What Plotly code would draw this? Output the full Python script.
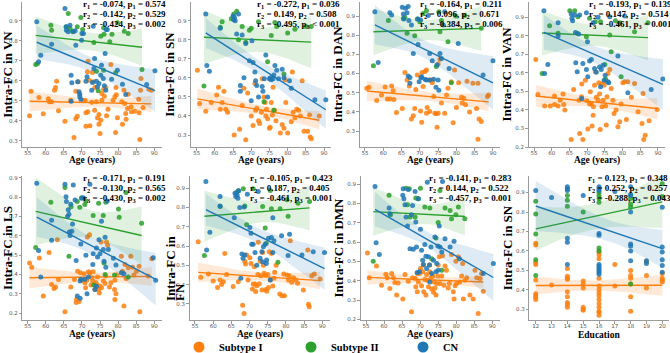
import numpy as np
import plotly.graph_objects as go

# ---------------- DATA ----------------
# (age, intra-FC) pairs per group; Subtype I / Subtype II / CN
VN_I = [(55.5,0.425),(55.9,0.548),(58.1,0.517),(59.3,0.435),(60.7,0.51),(61.0,0.495),(61.6,0.495),(62.4,0.553),(62.7,0.567),(63.0,0.598),(63.5,0.45),(65.3,0.398),(66.9,0.503),(67.8,0.317),(68.3,0.41),(68.7,0.423),(68.3,0.548),(69.0,0.595),(70.4,0.50),(70.9,0.503),(71.1,0.44),(71.6,0.445),(71.1,0.373),(71.7,0.698),(71.5,0.645),(72.0,0.603),(72.2,0.375),(72.7,0.493),(72.9,0.642),(73.2,0.595),(73.5,0.453),(73.6,0.567),(74.0,0.495),(74.3,0.415),(74.7,0.432),(74.7,0.383),(75.0,0.337),(75.2,0.403),(75.5,0.537),(75.5,0.503),(76.0,0.558),(76.2,0.523),(76.6,0.567),(76.8,0.425),(77.2,0.458),(78.0,0.682),(78.6,0.503),(79.1,0.52),(79.3,0.342),(79.4,0.567),(79.5,0.53),(79.8,0.415),(81.0,0.495),(81.2,0.383),(81.6,0.553),(81.8,0.487),(82.1,0.437),(82.2,0.408),(82.6,0.462),(82.8,0.533),(83.6,0.47),(83.7,0.445),(84.6,0.448),(85.7,0.508),(85.8,0.44),(86.2,0.553),(86.0,0.307),(86.3,0.612),(86.9,0.467),(88.5,0.558),(89.2,0.553)]
VN_II = [(57.2,0.682),(57.7,0.687),(61.4,0.878),(61.6,0.853),(65.7,0.87),(66.2,0.937),(66.7,0.862),(67.4,0.848),(68.7,0.87),(69.7,0.917),(70.2,0.857),(73.3,0.792),(74.0,0.648),(74.5,0.55),(75.2,0.823),(76.0,0.865),(76.0,0.653),(76.1,0.833),(77.7,0.795),(78.3,0.833),(79.3,0.64),(79.8,0.89),(81.7,0.848),(82.8,0.837),(86.6,0.657)]
VN_CN = [(57.5,0.895),(58.0,0.695),(58.6,0.728),(61.6,0.783),(65.3,0.962),(65.6,0.87),(65.7,0.853),(66.2,0.845),(66.7,0.878),(67.0,0.628),(67.2,0.59),(67.0,0.498),(67.6,0.845),(68.1,0.85),(68.3,0.778),(68.8,0.595),(69.2,0.545),(69.4,0.533),(69.4,0.52),(69.7,0.508),(69.9,0.803),(70.0,0.837),(70.4,0.837),(71.1,0.598),(71.4,0.62),(72.7,0.553),(72.9,0.592),(73.1,0.873),(73.3,0.662),(73.5,0.712),(74.0,0.598),(74.3,0.57),(74.7,0.587),(75.2,0.628),(75.4,0.678),(75.9,0.612),(76.2,0.575),(76.4,0.737),(76.6,0.553),(76.7,0.857),(77.0,0.857),(78.2,0.608),(79.8,0.653),(81.2,0.583),(82.1,0.532),(87.9,0.582),(90.2,0.65)]

SN_I = [(55.2,0.64),(55.8,0.465),(57.5,0.425),(59.0,0.47),(60.5,0.51),(61.0,0.55),(61.5,0.435),(62.0,0.47),(62.5,0.53),(63.0,0.435),(63.5,0.42),(65.3,0.30),(66.8,0.33),(67.5,0.455),(68.0,0.545),(68.5,0.275),(69.0,0.52),(70.0,0.40),(70.5,0.35),(71.0,0.57),(71.2,0.43),(71.5,0.44),(72.0,0.375),(72.3,0.36),(72.8,0.42),(73.0,0.595),(73.5,0.50),(73.8,0.47),(74.0,0.40),(74.2,0.435),(74.5,0.385),(75.0,0.335),(75.2,0.34),(75.5,0.47),(75.8,0.405),(76.0,0.55),(76.4,0.43),(76.8,0.375),(78.0,0.31),(78.5,0.355),(79.0,0.335),(79.3,0.59),(79.5,0.47),(80.0,0.31),(81.0,0.37),(81.3,0.63),(81.5,0.42),(82.0,0.39),(82.5,0.435),(83.0,0.43),(83.5,0.40),(84.0,0.585),(84.5,0.32),(85.5,0.32),(86.0,0.405),(86.2,0.29),(86.5,0.28),(88.7,0.40)]
SN_II = [(57.0,0.557),(61.5,0.865),(62.0,0.895),(64.5,0.91),(65.2,0.935),(66.0,0.95),(66.5,0.80),(67.5,0.87),(68.5,0.787),(69.5,0.85),(70.0,0.86),(72.0,0.895),(73.5,0.475),(74.5,0.685),(75.5,0.822),(76.2,0.43),(76.5,0.89),(77.0,0.87),(79.0,0.62),(80.0,0.835),(82.0,0.855),(85.0,0.87),(86.5,0.87)]
SN_CN = [(57.5,0.935),(57.8,0.665),(58.5,0.635),(61.5,0.86),(65.0,0.925),(65.2,0.905),(65.4,0.915),(65.6,0.90),(66.0,0.83),(66.5,0.935),(67.0,0.56),(67.0,0.53),(67.5,0.825),(68.0,0.60),(68.5,0.78),(69.5,0.69),(70.0,0.48),(70.2,0.795),(70.5,0.68),(71.0,0.63),(71.2,0.585),(71.5,0.56),(72.0,0.50),(73.0,0.555),(73.2,0.53),(73.6,0.595),(74.0,0.72),(74.5,0.50),(75.0,0.595),(75.3,0.60),(75.5,0.59),(76.0,0.595),(76.2,0.615),(76.5,0.665),(77.0,0.64),(77.5,0.595),(78.5,0.645),(79.0,0.60),(80.5,0.585),(81.0,0.545),(87.5,0.485),(90.5,0.485)]

DAN_I = [(55.5,0.523),(56.1,0.528),(58.2,0.46),(59.5,0.488),(60.5,0.53),(61.1,0.467),(61.8,0.467),(62.3,0.535),(62.7,0.51),(62.9,0.465),(63.6,0.397),(65.2,0.418),(65.9,0.606),(66.5,0.566),(67.1,0.535),(67.7,0.363),(68.2,0.38),(68.6,0.418),(68.9,0.517),(69.3,0.592),(70.2,0.405),(70.5,0.346),(70.6,0.606),(70.9,0.532),(71.4,0.61),(71.8,0.618),(71.8,0.393),(72.0,0.423),(72.5,0.566),(72.7,0.402),(73.2,0.566),(73.4,0.552),(73.8,0.48),(74.1,0.393),(74.5,0.39),(74.7,0.32),(75.0,0.393),(75.0,0.65),(75.5,0.674),(75.9,0.446),(76.8,0.393),(77.3,0.488),(77.7,0.523),(78.6,0.557),(79.1,0.343),(79.5,0.618),(80.0,0.423),(80.6,0.552),(81.4,0.476),(81.6,0.446),(82.0,0.471),(82.5,0.437),(82.9,0.56),(83.6,0.40),(84.5,0.549),(85.5,0.418),(85.9,0.549),(86.2,0.363),(85.9,0.257),(86.8,0.35),(88.5,0.48),(88.8,0.488)]
DAN_II = [(57.3,0.64),(61.4,0.876),(65.5,0.888),(65.9,0.893),(66.5,0.81),(68.6,0.797),(69.3,0.884),(70.0,0.87),(70.9,0.913),(71.8,0.927),(74.5,0.637),(75.2,0.922),(75.5,0.818),(75.9,0.876),(77.7,0.766),(78.6,0.552),(79.8,0.90),(82.3,0.902),(86.8,0.836)]
DAN_CN = [(57.7,0.922),(58.6,0.658),(61.8,0.917),(62.3,0.905),(65.2,0.945),(65.5,0.91),(65.6,0.884),(66.1,0.94),(66.5,0.917),(66.8,0.949),(67.0,0.876),(66.8,0.587),(67.3,0.58),(67.3,0.549),(67.7,0.853),(68.2,0.705),(69.5,0.884),(69.5,0.751),(69.8,0.557),(70.2,0.879),(70.3,0.578),(70.5,0.583),(71.4,0.57),(71.8,0.566),(72.3,0.902),(72.7,0.705),(72.7,0.566),(73.4,0.667),(73.8,0.57),(74.4,0.528),(74.7,0.644),(75.0,0.566),(75.2,0.513),(75.5,0.705),(75.9,0.679),(76.4,0.853),(76.8,0.922),(78.0,0.626),(80.5,0.756),(87.3,0.592),(90.0,0.667)]

VAN_I = [(55.5,0.673),(56.1,0.484),(58.0,0.421),(59.6,0.421),(60.8,0.475),(60.8,0.43),(61.8,0.421),(62.4,0.453),(63.2,0.486),(63.4,0.43),(63.7,0.40),(65.5,0.241),(66.2,0.511),(67.7,0.453),(67.9,0.273),(68.4,0.471),(68.5,0.54),(68.8,0.241),(69.5,0.561),(69.9,0.45),(70.2,0.297),(70.7,0.432),(70.9,0.498),(71.2,0.432),(71.4,0.313),(71.7,0.372),(71.8,0.417),(72.1,0.534),(72.3,0.606),(72.6,0.468),(73.1,0.453),(73.3,0.547),(73.5,0.486),(73.7,0.295),(74.0,0.54),(74.2,0.417),(74.5,0.453),(74.8,0.534),(75.0,0.552),(75.2,0.421),(75.4,0.319),(75.6,0.471),(75.9,0.597),(76.4,0.619),(76.8,0.516),(77.3,0.453),(77.6,0.381),(78.2,0.40),(78.7,0.309),(79.2,0.336),(79.6,0.432),(80.1,0.547),(80.6,0.552),(81.1,0.349),(81.5,0.552),(82.5,0.468),(83.4,0.543),(84.4,0.39),(85.5,0.327),(85.8,0.489),(86.0,0.241),(86.4,0.264),(87.5,0.342),(89.8,0.403)]
VAN_II = [(57.3,0.597),(59.4,0.855),(61.8,0.814),(65.1,0.936),(66.5,0.936),(67.2,0.814),(67.4,0.904),(69.8,0.796),(70.7,0.895),(72.3,0.877),(73.8,0.877),(75.0,0.646),(75.2,0.567),(76.4,0.805),(76.8,0.714),(78.0,0.882),(79.2,0.871),(79.6,0.579),(83.4,0.823),(87.2,0.871)]
VAN_CN = [(57.8,0.936),(58.0,0.597),(58.9,0.646),(61.8,0.871),(61.8,0.80),(65.5,0.918),(65.7,0.895),(65.9,0.882),(66.5,0.913),(66.7,0.818),(66.8,0.655),(67.2,0.606),(67.6,0.81),(67.9,0.913),(68.5,0.462),(68.8,0.651),(69.8,0.619),(69.8,0.925),(70.1,0.769),(70.2,0.579),(70.7,0.665),(71.2,0.673),(71.7,0.871),(72.1,0.624),(72.6,0.603),(73.1,0.90),(73.5,0.632),(73.8,0.525),(74.0,0.619),(74.5,0.642),(74.8,0.561),(75.1,0.588),(75.9,0.552),(76.1,0.547),(76.4,0.904),(78.7,0.691),(80.6,0.907),(81.5,0.493),(88.1,0.511),(91.4,0.567)]

LS_I = [(55.5,0.46),(56.1,0.437),(58.2,0.485),(59.3,0.289),(60.9,0.514),(61.6,0.349),(62.3,0.328),(62.7,0.335),(63.5,0.374),(63.2,0.579),(65.3,0.208),(66.9,0.335),(67.9,0.374),(68.4,0.255),(68.5,0.271),(68.8,0.417),(69.2,0.26),(69.6,0.409),(70.1,0.37),(70.6,0.404),(70.8,0.356),(71.0,0.332),(71.3,0.37),(71.5,0.594),(71.8,0.414),(72.1,0.605),(72.2,0.409),(72.5,0.346),(72.7,0.384),(73.0,0.367),(73.1,0.414),(73.3,0.349),(73.6,0.323),(73.9,0.358),(74.1,0.346),(74.3,0.387),(74.6,0.323),(74.8,0.305),(75.0,0.341),(75.3,0.568),(75.4,0.332),(75.9,0.367),(76.4,0.353),(76.6,0.392),(76.8,0.568),(77.1,0.551),(77.6,0.335),(78.0,0.358),(79.0,0.323),(79.1,0.271),(79.4,0.30),(79.1,0.37),(79.6,0.398),(80.9,0.494),(81.2,0.417),(81.6,0.237),(81.9,0.452),(82.2,0.38),(82.8,0.435),(83.5,0.494),(84.0,0.437),(84.4,0.398),(85.1,0.417),(85.8,0.443),(86.0,0.208),(88.3,0.392),(89.3,0.482)]
LS_II = [(57.2,0.54),(61.4,0.773),(65.3,0.85),(66.4,0.494),(67.0,0.75),(68.7,0.777),(69.4,0.748),(69.9,0.797),(70.8,0.762),(71.1,0.78),(73.1,0.705),(73.3,0.346),(74.6,0.768),(75.9,0.705),(76.1,0.46),(76.4,0.40),(76.6,0.773),(79.0,0.398),(80.1,0.738),(80.3,0.696),(82.2,0.824),(82.8,0.387),(86.5,0.665)]
LS_CN = [(57.5,0.871),(58.0,0.524),(58.6,0.387),(61.6,0.68),(61.6,0.577),(65.3,0.866),(65.6,0.802),(65.7,0.777),(66.0,0.70),(66.2,0.735),(66.4,0.712),(66.5,0.62),(66.7,0.602),(66.9,0.763),(67.2,0.624),(67.4,0.661),(67.6,0.862),(68.1,0.785),(68.4,0.472),(68.7,0.289),(69.5,0.367),(69.5,0.277),(69.7,0.558),(69.7,0.375),(69.9,0.794),(70.4,0.797),(70.8,0.375),(71.1,0.50),(71.4,0.30),(71.8,0.387),(72.2,0.866),(73.0,0.452),(73.1,0.507),(73.6,0.323),(74.0,0.34),(74.0,0.537),(74.3,0.49),(74.7,0.58),(75.0,0.507),(75.4,0.675),(75.9,0.529),(76.1,0.469),(76.4,0.592),(76.6,0.438),(77.0,0.78),(77.3,0.529),(78.7,0.484),(79.4,0.449),(80.9,0.409),(81.6,0.404),(89.7,0.487),(90.4,0.371)]

FN_I = [(55.9,0.623),(56.6,0.438),(58.7,0.455),(60.0,0.419),(61.2,0.385),(61.9,0.424),(62.3,0.401),(62.8,0.415),(63.2,0.562),(63.7,0.453),(65.5,0.39),(66.9,0.415),(68.1,0.294),(68.5,0.251),(68.7,0.522),(68.9,0.507),(69.2,0.554),(69.6,0.424),(70.1,0.54),(70.4,0.51),(70.8,0.377),(71.0,0.403),(71.3,0.493),(71.5,0.403),(71.7,0.365),(72.0,0.394),(72.3,0.453),(72.4,0.62),(72.7,0.405),(72.9,0.522),(73.1,0.446),(73.4,0.372),(73.6,0.567),(73.8,0.501),(74.0,0.459),(74.3,0.45),(74.5,0.375),(74.7,0.366),(75.0,0.453),(75.2,0.385),(75.4,0.571),(75.7,0.424),(76.0,0.562),(76.4,0.393),(76.7,0.433),(76.9,0.464),(77.3,0.501),(78.3,0.352),(78.9,0.342),(79.6,0.342),(79.4,0.455),(80.3,0.45),(80.7,0.424),(80.9,0.446),(81.2,0.627),(81.6,0.412),(82.1,0.436),(82.7,0.424),(83.2,0.407),(84.8,0.372),(86.0,0.58),(86.2,0.298),(86.4,0.286),(87.1,0.446),(87.8,0.455),(89.4,0.429)]
FN_II = [(57.6,0.551),(61.9,0.805),(66.5,0.879),(66.9,0.886),(68.3,0.897),(68.7,0.808),(69.2,0.71),(71.0,0.897),(73.6,0.805),(74.3,0.693),(74.6,0.615),(75.7,0.888),(76.0,0.793),(77.8,0.516),(78.4,0.793),(80.3,0.84),(80.6,0.754),(83.3,0.822),(86.5,0.831)]
FN_CN = [(58.0,0.935),(58.2,0.58),(59.1,0.672),(61.9,0.857),(61.9,0.808),(65.8,0.747),(66.0,0.874),(66.2,0.857),(66.6,0.865),(66.8,0.848),(67.0,0.886),(67.3,0.80),(67.6,0.433),(67.9,0.559),(68.2,0.537),(68.5,0.802),(68.7,0.554),(69.4,0.869),(70.1,0.696),(70.4,0.666),(70.6,0.609),(71.0,0.609),(71.5,0.567),(72.0,0.501),(72.4,0.883),(72.9,0.537),(73.4,0.571),(73.6,0.519),(73.8,0.597),(74.3,0.609),(74.6,0.51),(74.7,0.528),(75.2,0.64),(75.7,0.424),(76.0,0.644),(76.4,0.747),(76.4,0.567),(76.7,0.627),(78.8,0.654),(80.6,0.551),(81.0,0.661),(84.4,0.554),(87.5,0.571),(90.6,0.567)]

DMN_I = [(55.4,0.544),(55.9,0.415),(57.9,0.477),(59.3,0.377),(60.5,0.434),(60.9,0.415),(61.6,0.36),(62.1,0.437),(62.6,0.415),(63.0,0.391),(63.5,0.326),(63.9,0.389),(65.2,0.305),(65.8,0.432),(66.7,0.398),(67.6,0.24),(67.9,0.415),(68.6,0.412),(68.8,0.369),(69.2,0.437),(69.2,0.343),(69.5,0.394),(69.9,0.437),(70.1,0.463),(70.4,0.374),(70.7,0.446),(70.9,0.481),(71.0,0.343),(71.3,0.406),(71.6,0.326),(71.8,0.432),(72.0,0.403),(72.3,0.369),(72.6,0.481),(72.7,0.446),(73.0,0.415),(73.2,0.357),(73.5,0.425),(73.7,0.34),(73.9,0.394),(74.1,0.363),(74.4,0.326),(74.6,0.386),(74.9,0.425),(75.0,0.481),(75.3,0.524),(75.5,0.386),(76.0,0.425),(76.2,0.529),(76.6,0.377),(76.9,0.477),(77.3,0.455),(77.8,0.363),(78.1,0.386),(78.7,0.536),(79.2,0.343),(79.4,0.305),(79.7,0.374),(79.9,0.501),(80.1,0.386),(80.6,0.524),(81.0,0.394),(81.5,0.425),(81.8,0.489),(82.0,0.305),(82.4,0.403),(82.9,0.415),(83.8,0.326),(84.7,0.305),(85.2,0.455),(85.7,0.415),(86.1,0.231),(86.6,0.412),(87.0,0.437),(87.5,0.346)]
DMN_II = [(57.0,0.501),(61.4,0.842),(61.8,0.742),(66.1,0.879),(66.5,0.793),(67.0,0.876),(67.2,0.73),(68.6,0.73),(68.8,0.828),(69.5,0.824),(70.1,0.879),(71.3,0.781),(72.7,0.776),(73.2,0.514),(74.4,0.621),(75.0,0.701),(75.5,0.867),(76.0,0.455),(76.9,0.776),(78.3,0.764),(78.7,0.721),(79.9,0.742),(80.6,0.781),(82.4,0.721)]
DMN_CN = [(57.5,0.888),(57.8,0.597),(58.7,0.536),(61.4,0.776),(61.6,0.747),(65.2,0.842),(65.3,0.876),(65.5,0.824),(65.8,0.793),(66.1,0.73),(66.5,0.683),(66.7,0.872),(67.2,0.566),(67.6,0.742),(67.9,0.79),(68.1,0.563),(68.6,0.862),(68.8,0.704),(69.0,0.575),(69.2,0.443),(69.5,0.824),(69.8,0.446),(70.1,0.666),(70.4,0.558),(70.7,0.506),(70.9,0.484),(71.3,0.587),(71.6,0.527),(71.8,0.463),(72.0,0.91),(72.3,0.524),(72.6,0.481),(72.7,0.394),(73.0,0.575),(73.2,0.437),(73.7,0.506),(74.1,0.627),(74.4,0.446),(74.6,0.489),(74.9,0.58),(75.0,0.455),(75.3,0.683),(75.5,0.575),(76.0,0.549),(76.2,0.914),(76.9,0.618),(78.3,0.575),(79.4,0.604),(80.9,0.514),(87.5,0.437),(90.3,0.489)]

# Education (years) vs intra-FC in SN
EDU_I = [(12,0.64),(12,0.63),(12,0.54),(12,0.53),(12,0.45),(12,0.38),(12,0.37),(12,0.36),(12,0.35),(13,0.425),(14,0.51),(14,0.47),(14,0.46),(14,0.455),(14,0.39),(14,0.365),(14,0.335),(14,0.325),(14,0.31),(15,0.445),(15,0.43),(15,0.41),(15,0.31),(15,0.30),(15,0.295),(16,0.595),(16,0.58),(16,0.56),(16,0.46),(16,0.42),(16,0.40),(16,0.385),(16,0.37),(16,0.35),(16,0.33),(16,0.31),(16,0.29),(16,0.285),(16,0.27),(17,0.53),(17,0.42),(18,0.50),(18,0.474),(18,0.46),(18,0.43),(18,0.365),(18,0.29),(19,0.545),(19,0.474),(19,0.41),(20,0.484),(20,0.46),(20,0.449),(20,0.44)]
EDU_II = [(12,0.855),(12,0.79),(12,0.687),(12,0.555),(12,0.474),(14,0.885),(14,0.86),(14,0.83),(15,0.80),(16,0.90),(16,0.885),(16,0.87),(16,0.85),(16,0.615),(16,0.60),(18,0.87),(18,0.84),(18,0.825),(18,0.43),(20,0.945),(20,0.88)]
EDU_CN = [(12,0.91),(13,0.875),(14,0.93),(14,0.92),(14,0.91),(14,0.665),(14,0.645),(14,0.53),(15,0.885),(16,0.93),(16,0.92),(16,0.91),(16,0.69),(16,0.68),(16,0.53),(16,0.52),(16,0.51),(16,0.50),(16,0.49),(16,0.48),(17,0.905),(18,0.93),(18,0.89),(18,0.885),(18,0.80),(18,0.635),(18,0.625),(18,0.60),(18,0.55),(19,0.55),(19,0.535),(20,0.825),(20,0.62),(20,0.595),(20,0.555),(20,0.525),(20,0.49)]

# correlation statistics shown in each panel (r, p) for Subtype I, Subtype II, CN
STATS_VN  = [(-0.074, "= 0.574"), (-0.142, "= 0.529"), (-0.424, "= 0.002")]
STATS_SN  = [(-0.272, "= 0.036"), (0.149, "= 0.508"), (-0.495, "< 0.001")]
STATS_DAN = [(-0.164, "= 0.211"), (0.096, "= 0.671"), (-0.384, "= 0.006")]
STATS_VAN = [(-0.193, "= 0.139"), (0.147, "= 0.514"), (-0.461, "= 0.001")]
STATS_LS  = [(-0.171, "= 0.191"), (-0.130, "= 0.565"), (-0.430, "= 0.002")]
STATS_FN  = [(-0.105, "= 0.423"), (0.187, "= 0.405"), (-0.461, "= 0.001")]
STATS_DMN = [(-0.141, "= 0.283"), (0.144, "= 0.522"), (-0.457, "= 0.001")]
STATS_EDU = [(0.123, "= 0.348"), (0.252, "= 0.257"), (-0.288, "= 0.043")]

GROUPS = ["Subtype I", "Subtype II", "CN"]
Y_TITLES = ["Intra-FC in VN", "Intra-FC in SN", "Intra-FC in DAN", "Intra-FC in VAN",
            "Intra-FC in LS", "", "Intra-FC in DMN", "Intra-FC in SN"]
FN_TITLE_LINES = ["Intra-FC in", "FN"]
X_TITLES = ["Age (years)"] * 7 + ["Education"]

# ---------------- STYLE / LAYOUT ----------------
COLORS = ["#ff7f0e", "#2ca02c", "#1f77b4"]
FILLS = ["rgba(255,127,14,0.17)", "rgba(44,160,44,0.15)", "rgba(31,119,180,0.15)"]
W, H = 670, 353
SERIF = "Liberation Serif"

panels = [
    (VN_I, VN_II, VN_CN, STATS_VN),
    (SN_I, SN_II, SN_CN, STATS_SN),
    (DAN_I, DAN_II, DAN_CN, STATS_DAN),
    (VAN_I, VAN_II, VAN_CN, STATS_VAN),
    (LS_I, LS_II, LS_CN, STATS_LS),
    (FN_I, FN_II, FN_CN, STATS_FN),
    (DMN_I, DMN_II, DMN_CN, STATS_DMN),
    (EDU_I, EDU_II, EDU_CN, STATS_EDU),
]
# pixel extents of each plotting area (left, right, top, bottom)
px_boxes = [
    (22.3, 161.5, 2, 147), (191.2, 331.3, 2, 147), (359.5, 500.3, 2, 147), (528.7, 665.0, 2, 147),
    (22.3, 161.5, 176, 320), (189.5, 329.6, 176, 320), (360.6, 499.5, 176, 320), (529.4, 668.6, 176, 320),
]
xtitle_y = [160.5] * 4 + [334.5] * 4
y_ranges = [(0.269, 0.994), (0.237, 0.998), (0.217, 0.973), (0.200, 0.983),
            (0.165, 0.909), (0.217, 0.963), (0.197, 0.942), (0.245, 0.985)]
x_ranges = [(53.5, 92.0)] * 7 + [(11.6, 20.4)]
text_x = [69.8, 71.0, 69.5, 70.0, 69.8, 69.5, 71.8, 15.2]


def fit_band(x, y):
    x = np.asarray(x, float); y = np.asarray(y, float)
    n = len(x)
    b, a = np.polyfit(x, y, 1)
    grid = np.linspace(x.min(), x.max(), 100)
    yhat = a + b * grid
    resid = y - (a + b * x)
    s = np.sqrt(np.sum(resid ** 2) / (n - 2))
    sxx = np.sum((x - x.mean()) ** 2)
    se = s * np.sqrt(1.0 / n + (grid - x.mean()) ** 2 / sxx)
    t = 2.06 if n < 30 else (2.02 if n < 45 else 2.0)
    return grid, yhat, yhat - t * se, yhat + t * se


fig = go.Figure()
annotations = []
for k, (g1, g2, g3, stats) in enumerate(panels):
    idx = k + 1
    xa = "x" if idx == 1 else f"x{idx}"
    ya = "y" if idx == 1 else f"y{idx}"
    for gi, data in enumerate((g1, g2, g3)):
        xs = [d[0] for d in data]
        ys = [d[1] for d in data]
        fig.add_trace(go.Scatter(x=xs, y=ys, mode="markers", xaxis=xa, yaxis=ya,
                                 marker=dict(size=5, color=COLORS[gi], opacity=0.85, line=dict(width=0)),
                                 showlegend=False, hoverinfo="skip"))
        grid, yhat, lo, hi = fit_band(xs, ys)
        fig.add_trace(go.Scatter(x=np.concatenate([grid, grid[::-1]]), y=np.concatenate([hi, lo[::-1]]),
                                 mode="lines", fill="toself", fillcolor=FILLS[gi], line=dict(width=0),
                                 xaxis=xa, yaxis=ya, showlegend=False, hoverinfo="skip"))
        fig.add_trace(go.Scatter(x=grid, y=yhat, mode="lines", line=dict(color=COLORS[gi], width=1.4),
                                 xaxis=xa, yaxis=ya, showlegend=False, hoverinfo="skip"))
    l, r, t, b = px_boxes[k]
    axis_common = dict(showline=True, linecolor="#9a9a9a", linewidth=1, ticks="outside", ticklen=2.5,
                       tickwidth=0.8, tickcolor="#9a9a9a", showgrid=False, zeroline=False,
                       automargin=False,
                       tickfont=dict(family="DejaVu Sans", size=5.5, color="#555"))
    xdt = 1 if k == 7 else 5
    fig.update_layout(**{
        ("xaxis" if idx == 1 else f"xaxis{idx}"): dict(
            domain=[l / W, r / W], range=list(x_ranges[k]), anchor=ya, dtick=xdt, tick0=0,
            ticklabelstandoff=-2, **axis_common),
        ("yaxis" if idx == 1 else f"yaxis{idx}"): dict(
            domain=[1 - b / H, 1 - t / H], range=list(y_ranges[k]), anchor=xa, dtick=0.1,
            tick0=0, tickformat=".1f", title=dict(text=Y_TITLES[k], standoff=0,
                                                 font=dict(family=SERIF, size=13, color="black", weight="bold")),
            **axis_common),
    })
    # x-axis title
    annotations.append(dict(
        xref=f"{xa} domain", yref="paper", x=0.5, y=1 - xtitle_y[k] / H, xanchor="center", yanchor="middle",
        showarrow=False, text=X_TITLES[k],
        font=dict(family=SERIF, size=9.5, color="black", weight="bold")))
    for i, (rv, pv) in enumerate(stats):
        annotations.append(dict(
            xref=xa, yref=f"{ya} domain", x=text_x[k], y=1, xanchor="left", yanchor="middle",
            yshift=-2.5 - 10 * i, showarrow=False,
            text=f"r<sub>{i+1}</sub> = {rv:.3f}, p<sub>{i+1}</sub> {pv}",
            font=dict(family=SERIF, size=9, color="black", weight="bold")))

# two-line y title of the FN panel (tight line spacing as in the reference)
for j, (line, cx) in enumerate(zip(FN_TITLE_LINES, (170.5, 179.0))):
    annotations.append(dict(
        xref="paper", yref="paper", x=cx / W, y=1 - 303 / H, xanchor="center", yanchor="bottom",
        textangle=-90, showarrow=False, text=line,
        font=dict(family=SERIF, size=13, color="black", weight="bold")))

# legend entries
for gi, name in enumerate(GROUPS):
    fig.add_trace(go.Scatter(x=[None], y=[None], mode="markers", name=name,
                             marker=dict(size=11, color=COLORS[gi]), showlegend=True))

fig.update_layout(
    width=W, height=H, margin=dict(l=0, r=0, t=0, b=0, autoexpand=False),
    paper_bgcolor="white", plot_bgcolor="white",
    annotations=annotations,
    legend=dict(orientation="h", x=(201 - 22) / W, xanchor="left", y=1 - 347 / H, yanchor="middle",
                entrywidth=67, entrywidthmode="pixels", itemsizing="trace",
                font=dict(family=SERIF, size=10.5, color="black", weight="bold"),
                bgcolor="rgba(0,0,0,0)", tracegroupgap=0),
)

fig.write_html("out.html", config={"displayModeBar": False},
               post_script="document.body.style.margin='0';document.body.style.padding='0';")
